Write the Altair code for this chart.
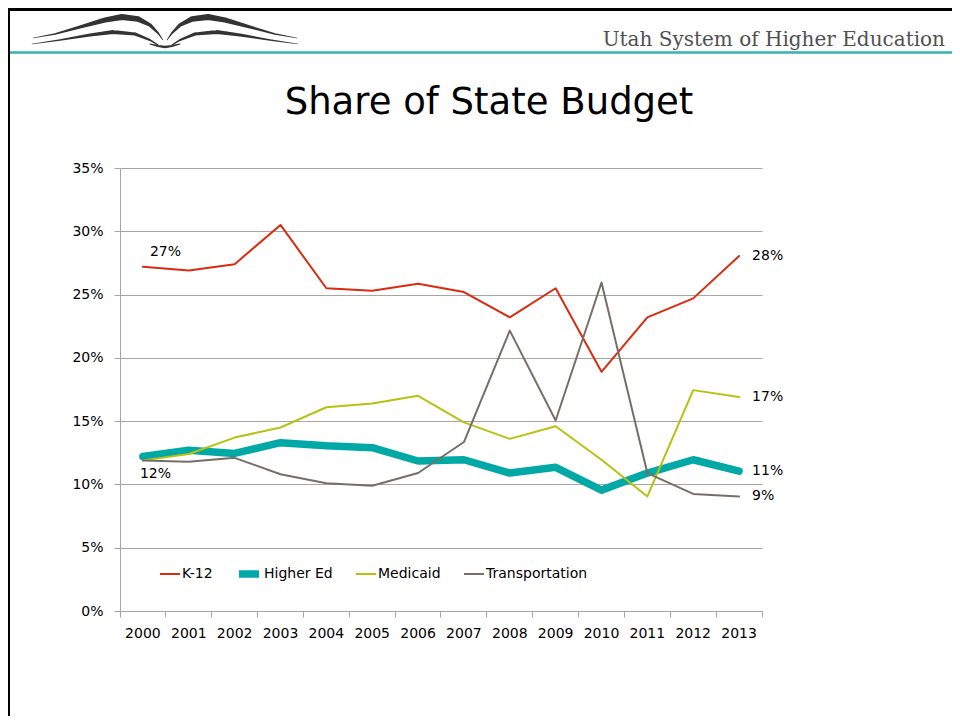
import altair as alt
import pandas as pd

# ---------------- data ----------------
years = [str(y) for y in range(2000, 2014)]
series = ["K-12", "Higher Ed", "Medicaid", "Transportation"]
k12 = [27.2, 26.9, 27.4, 30.5, 25.5, 25.3, 25.85, 25.2, 23.2, 25.5, 18.9, 23.2, 24.7, 28.05]
higher_ed = [12.2, 12.7, 12.45, 13.3, 13.05, 12.9, 11.85, 11.95, 10.9, 11.35, 9.55, 10.9, 11.95, 11.05]
medicaid = [11.9, 12.4, 13.7, 14.5, 16.1, 16.4, 17.0, 14.9, 13.6, 14.6, 11.95, 9.05, 17.45, 16.9]
transportation = [11.9, 11.8, 12.1, 10.8, 10.1, 9.9, 10.9, 13.35, 22.15, 15.05, 25.95, 10.9, 9.25, 9.05]
y_ticks = [0, 0.05, 0.10, 0.15, 0.20, 0.25, 0.30, 0.35]

colors = ["#D92B10", "#00A9A6", "#B5C211", "#776E67"]
line_widths = [2, 7.5, 2, 2]

title_text = "Share of State Budget"
header_text = "Utah System of Higher Education"

# decorative book logo (page pixels): stroke id, x, y, width
logo_stroke = ["lu"] * 9 + ["ll"] * 7 + ["c"] * 5 + ["ru"] * 9 + ["rl"] * 7
logo_x = [33, 55, 80, 105, 122, 138, 150, 158, 163,
          32, 60, 90, 113, 135, 150, 158,
          150, 158, 165, 172, 180,
          167, 172, 180, 192, 208, 225, 250, 275, 297,
          172, 180, 195, 217, 240, 270, 298]
logo_y = [38, 34, 27, 20, 17, 19, 25, 33, 40,
          44, 40, 35, 32, 34, 40, 45,
          44, 46, 47, 46, 44,
          40, 33, 25, 19, 17, 20, 27, 34, 38,
          45, 40, 34, 32, 35, 40, 44]
logo_w = [0.5, 1.5, 3, 5, 6, 5.5, 3.5, 1.8, 0.5,
          0.5, 1.5, 2.8, 3.8, 3.2, 2, 1,
          1, 2, 2.4, 2, 1,
          0.5, 1.8, 3.5, 5.5, 6, 5, 3, 1.5, 0.5,
          1, 2, 3.2, 3.8, 2.8, 1.5, 0.5]

rows = []
for s, vals in zip(series, [k12, higher_ed, medicaid, transportation]):
    for yr, v in zip(years, vals):
        rows.append({"series": s, "year": yr, "value": v / 100.0})
df = pd.DataFrame(rows)

W, H = 642, 443
PL, PT = 112, 160          # plot origin inside the chart (page 120,168)
OX, OY = PL + 8, PT + 8    # plot origin in page pixels
TOTAL_W, TOTAL_H = 944, 708
FONT = "DejaVu Sans"
GRAY = "#A6A6A6"

logo_df = pd.DataFrame({
    "stroke": logo_stroke,
    "i": list(range(len(logo_x))),
    "lx": [v - OX for v in logo_x],
    "ly": [v - OY for v in logo_y],
    "lw": logo_w,
})

x_enc = alt.X(
    "year:O",
    sort=years,
    scale=alt.Scale(type="band", paddingInner=0, paddingOuter=0),
    axis=alt.Axis(
        title=None, labelAngle=0, grid=False,
        bandPosition=1, tickExtra=True,
        tickSize=6, tickColor=GRAY, domainColor=GRAY,
        labelFont=FONT, labelFontSize=14, labelColor="#000000",
        labelPadding=9,
    ),
)
y_enc = alt.Y(
    "value:Q",
    scale=alt.Scale(domain=[0, 0.35], nice=False, zero=True),
    axis=alt.Axis(
        title=None, values=y_ticks, format=".0%",
        grid=True, gridColor=GRAY, gridWidth=1,
        tickSize=6, tickColor=GRAY, domainColor=GRAY,
        labelFont=FONT, labelFontSize=14, labelColor="#000000",
        labelPadding=11,
    ),
)

legend = alt.Legend(
    title=None, orient="none", legendX=39, legendY=396,
    direction="horizontal", symbolType="stroke", symbolSize=400,
    labelFont=FONT, labelFontSize=14, labelColor="#000000",
    labelOffset=1, columnPadding=22, padding=0, clipHeight=20,
)

lines = alt.Chart(df).mark_line(strokeCap="round", strokeJoin="round").encode(
    x=x_enc,
    y=y_enc,
    color=alt.Color("series:N", sort=series,
                    scale=alt.Scale(domain=series, range=colors), legend=legend),
    strokeWidth=alt.StrokeWidth("series:N", sort=series,
                                scale=alt.Scale(type="ordinal", domain=series, range=line_widths),
                                legend=legend),
    detail="series:N",
)

txt = dict(font=FONT, fontSize=14, color="#000000")
right_labels = alt.Chart(df[df["year"] == "2013"]).mark_text(
    align="left", baseline="middle", dx=13, **txt
).encode(x=x_enc, y=y_enc, text=alt.Text("value:Q", format=".0%"))

label_k12 = alt.Chart(df[(df["year"] == "2000") & (df["series"] == "K-12")]).mark_text(
    align="left", baseline="middle", dx=7, dy=-15, **txt
).encode(x=x_enc, y=y_enc, text=alt.Text("value:Q", format=".0%"))

label_he = alt.Chart(df[(df["year"] == "2000") & (df["series"] == "Higher Ed")]).mark_text(
    align="left", baseline="middle", dx=-3, dy=17, **txt
).encode(x=x_enc, y=y_enc, text=alt.Text("value:Q", format=".0%"))

deco = pd.DataFrame({"title": [title_text], "header": [header_text]})

title = alt.Chart(deco).mark_text(
    font=FONT, fontSize=37, color="#000000", align="center", baseline="alphabetic"
).encode(text="title:N", x=alt.value(369), y=alt.value(-54))

header = alt.Chart(deco).mark_text(
    font="DejaVu Serif", fontSize=20, color="#505050", align="right", baseline="alphabetic"
).encode(text="header:N", x=alt.value(825), y=alt.value(-122))

teal_rule = alt.Chart(deco).mark_rule(color="#35B2B2", strokeWidth=2.5).encode(
    x=alt.value(-PL), x2=alt.value(TOTAL_W - PL), y=alt.value(-115.5)
)
top_border = alt.Chart(deco).mark_rule(color="#000000", strokeWidth=3).encode(
    x=alt.value(-PL), x2=alt.value(TOTAL_W - PL), y=alt.value(-PT + 1.5)
)
left_border = alt.Chart(deco).mark_rule(color="#000000", strokeWidth=2).encode(
    x=alt.value(-PL + 1), y=alt.value(-PT), y2=alt.value(TOTAL_H - PT)
)

logo = alt.Chart(logo_df).mark_trail(color="#333333").encode(
    x=alt.X("lx:Q", scale=None),
    y=alt.Y("ly:Q", scale=None),
    size=alt.Size("lw:Q", scale=None, legend=None),
    detail="stroke:N",
    order="i:Q",
)

chart = alt.layer(
    lines, right_labels, label_k12, label_he,
    title, header, teal_rule, top_border, left_border, logo,
).properties(
    width=W, height=H,
    autosize=alt.AutoSizeParams(type="none"),
    padding={"left": PL, "top": PT, "right": TOTAL_W - PL - W, "bottom": TOTAL_H - PT - H},
    background="#FFFFFF",
).configure_view(stroke=None)

chart.save("out.html", embed_options={"renderer": "svg", "actions": False})
